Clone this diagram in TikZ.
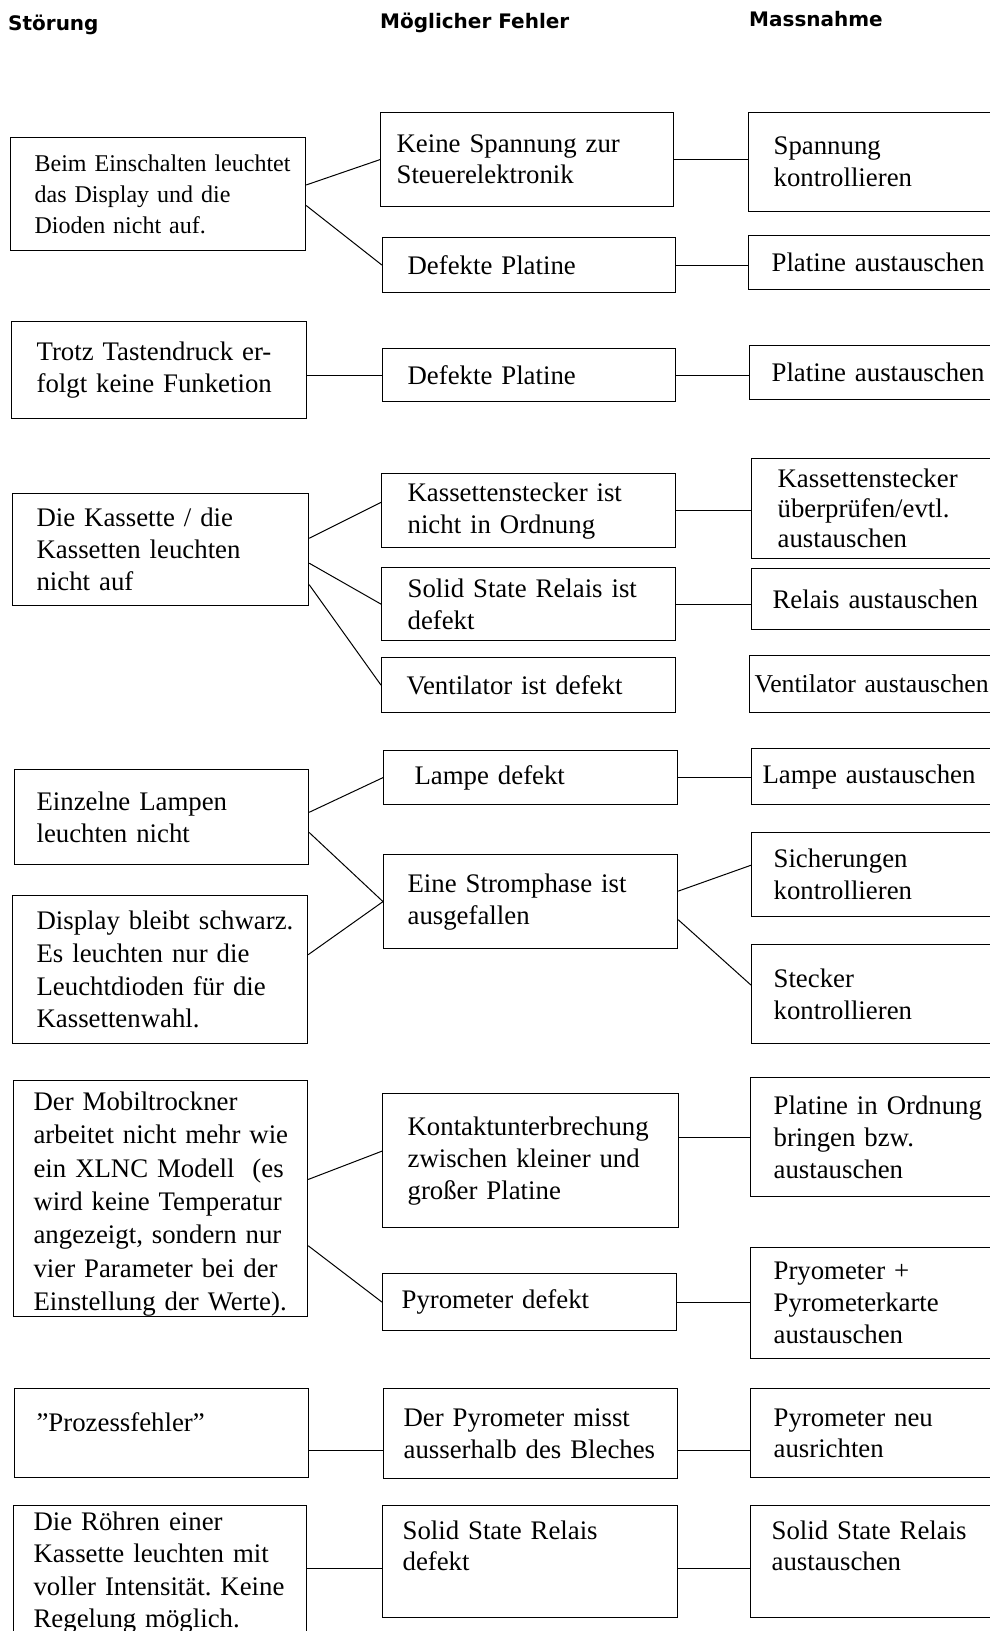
\documentclass[tikz,border=0pt]{standalone}
\usepackage{fontspec}
\usepackage{tikz}
\usetikzlibrary{calc}
\setmainfont{Liberation Serif}
\newfontfamily\headfont{DejaVu Sans}
\newcommand{\bodyfont}{\fontsize{26.8}{32}\selectfont}
\newcommand{\smallbody}{\fontsize{24}{31}\selectfont}
\frenchspacing

\begin{document}
\begin{tikzpicture}[
 x=1pt,y=-1pt,
 head/.style={font=\headfont\bfseries\fontsize{20}{24}\selectfont,anchor=west,inner sep=0pt},
 cell/.style={draw=black,line width=1.2pt,anchor=north west,inner sep=0pt,align=left,font=\bodyfont},
 boxsize/.style 2 args={minimum width=#1pt,text width=#1pt,minimum height=#2pt},
 ind/.style={execute at begin node={\leftskip=#1pt}},
 link/.style={draw=black,line width=1pt},
]
\useasboundingbox (0,0) rectangle (989,1631);

% column titles
\node[head] (h1) at (8,25) {Störung};
\node[head] (h2) at (380,23) {Möglicher Fehler};
\node[head] (h3) at (749,19) {Massnahme};

% block 1
\node[cell,boxsize={295}{113},ind=24,font=\smallbody] (s1) at (10,137) {Beim Einschalten leuchtet\\das Display und die\\Dioden nicht auf.};
\node[cell,boxsize={293}{94},ind=16,font=\fontsize{26.8}{31}\selectfont] (k1) at (380,112) {Keine Spannung zur\\Steuerelektronik};
\node[cell,boxsize={262}{99},ind=25] (m1) at (748,112) {Spannung\\kontrollieren};
\node[cell,boxsize={293}{55},ind=25] (k2) at (382,237) {Defekte Platine};
\node[cell,boxsize={262}{54},ind=23] (m2) at (748,235) {Platine austauschen};

% block 2
\node[cell,boxsize={295}{97},ind=25] (s2) at (11,321) {Trotz Tastendruck er-\\folgt keine Funketion};
\node[cell,boxsize={293}{53},ind=25] (k3) at (382,348) {Defekte Platine};
\node[cell,boxsize={262}{54},ind=22] (m3) at (749,345) {Platine austauschen};

% block 3
\node[cell,boxsize={296}{112},ind=24] (s3) at (12,493) {Die Kassette / die\\Kassetten leuchten\\nicht auf};
\node[cell,boxsize={294}{74},ind=26] (k4) at (381,473) {Kassettenstecker ist\\nicht in Ordnung};
\node[cell,boxsize={262}{100},ind=26,font=\fontsize{26.8}{30}\selectfont] (m4) at (751,458) {Kassettenstecker\\überprüfen/evtl.\\austauschen};
\node[cell,boxsize={294}{73},ind=26] (k5) at (381,567) {Solid State Relais ist\\defekt};
\node[cell,boxsize={262}{61},ind=21] (m5) at (751,568) {Relais austauschen};
\node[cell,boxsize={294}{55},ind=25] (k6) at (381,657) {Ventilator ist defekt};
\node[cell,boxsize={262}{57},ind=5,font=\fontsize{25.7}{30}\selectfont] (m6) at (749,655) {Ventilator austauschen};

% block 4
\node[cell,boxsize={294}{95},ind=22] (s4) at (14,769) {Einzelne Lampen\\leuchten nicht};
\node[cell,boxsize={295}{148},ind=24,font=\fontsize{26.8}{32.6}\selectfont] (s5) at (12,895) {Display bleibt schwarz.\\Es leuchten nur die\\Leuchtdioden für die\\Kassettenwahl.};
\node[cell,boxsize={294}{54},ind=31] (k7) at (383,750) {Lampe defekt};
\node[cell,boxsize={262}{56},ind=11] (m7) at (751,748) {Lampe austauschen};
\node[cell,boxsize={294}{94},ind=24] (k8) at (383,854) {Eine Stromphase ist\\ausgefallen};
\node[cell,boxsize={262}{84},ind=22] (m8) at (751,832) {Sicherungen\\kontrollieren};
\node[cell,boxsize={262}{99},ind=22] (m9) at (751,944) {Stecker\\kontrollieren};

% block 5
\node[cell,boxsize={294}{232},ind=20,text height=30pt,font=\fontsize{26.8}{33.3}\selectfont] (s6) at (13,1080) {Der Mobiltrockner\\arbeitet nicht mehr wie\\ein XLNC Modell~ (es\\wird keine Temperatur\\angezeigt, sondern nur\\vier Parameter bei der\\Einstellung der Werte).};
\node[cell,boxsize={296}{134},ind=25] (k9) at (382,1093) {Kontaktunterbrechung\\zwischen kleiner und\\großer Platine};
\node[cell,boxsize={262}{119},ind=23] (m10) at (750,1077) {Platine in Ordnung\\bringen bzw.\\austauschen};
\node[cell,boxsize={294}{57},ind=19] (k10) at (382,1273) {Pyrometer defekt};
\node[cell,boxsize={262}{111},ind=23] (m11) at (750,1247) {Pryometer +\\Pyrometerkarte\\austauschen};

% block 6
\node[cell,boxsize={294}{89},ind=22,text depth=23pt] (s7) at (14,1388) {”Prozessfehler”};
\node[cell,boxsize={294}{90},ind=20,font=\fontsize{26.8}{31.5}\selectfont] (k11) at (383,1388) {Der Pyrometer misst\\ausserhalb des Bleches};
\node[cell,boxsize={262}{89},ind=23,font=\fontsize{26.8}{31.5}\selectfont] (m12) at (750,1388) {Pyrometer neu\\ausrichten};

% block 7
\node[cell,boxsize={293}{0},ind=20,text height=25pt,text depth=150pt,font=\fontsize{26.8}{32.3}\selectfont] (s8) at (13,1505) {Die Röhren einer\\Kassette leuchten mit\\voller Intensität. Keine\\Regelung möglich.};
\node[cell,boxsize={295}{0},ind=20,text height=34pt,text depth=78pt,font=\fontsize{26.8}{31}\selectfont] (k12) at (382,1505) {Solid State Relais\\defekt};
\node[cell,boxsize={262}{0},ind=21,text height=34pt,text depth=78pt,font=\fontsize{26.8}{31}\selectfont] (m13) at (750,1505) {Solid State Relais\\austauschen};

% connectors
\draw[link] ($(s1.north east)!0.42!(s1.south east)$) -- (k1.west);
\draw[link] ($(s1.north east)!0.6!(s1.south east)$) -- (k2.west);
\draw[link] (k1.east) -- (k1.east -| m1.west);
\draw[link] (k2.east) -- (k2.east -| m2.west);
\draw[link] (k3.west -| s2.east) -- (k3.west);
\draw[link] (k3.east) -- (k3.east -| m3.west);
\draw[link] ($(s3.north east)!0.4!(s3.south east)$) -- ($(k4.north west)!0.39!(k4.south west)$);
\draw[link] ($(s3.north east)!0.62!(s3.south east)$) -- (k5.west);
\draw[link] ($(s3.north east)!0.81!(s3.south east)$) -- (k6.west);
\draw[link] (k4.east) -- (k4.east -| m4.west);
\draw[link] (k5.east) -- (k5.east -| m5.west);
\draw[link] ($(s4.north east)!0.45!(s4.south east)$) -- (k7.west);
\draw[link] ($(s4.north east)!0.66!(s4.south east)$) -- (k8.west);
\draw[link] ($(s5.north east)!0.4!(s5.south east)$) -- (k8.west);
\draw[link] (k7.east) -- (k7.east -| m7.west);
\draw[link] ($(k8.north east)!0.39!(k8.south east)$) -- ($(m8.north west)!0.39!(m8.south west)$);
\draw[link] ($(k8.north east)!0.69!(k8.south east)$) -- ($(m9.north west)!0.41!(m9.south west)$);
\draw[link] ($(s6.north east)!0.42!(s6.south east)$) -- ($(k9.north west)!0.43!(k9.south west)$);
\draw[link] ($(s6.north east)!0.7!(s6.south east)$) -- (k10.west);
\draw[link] (m10.west -| k9.east) -- (m10.west);
\draw[link] (k10.east) -- (k10.east -| m11.west);
\coordinate (p7) at ($(s7.north east)!0.69!(s7.south east)$);
\draw[link] (p7) -- (p7 -| k11.west);
\draw[link] (p7 -| k11.east) -- (p7 -| m12.west);
\coordinate (p8) at ($(k12.north west)!0.56!(k12.south west)$);
\draw[link] (p8 -| s8.east) -- (p8);
\draw[link] (p8 -| k12.east) -- (p8 -| m13.west);
\end{tikzpicture}
\end{document}
